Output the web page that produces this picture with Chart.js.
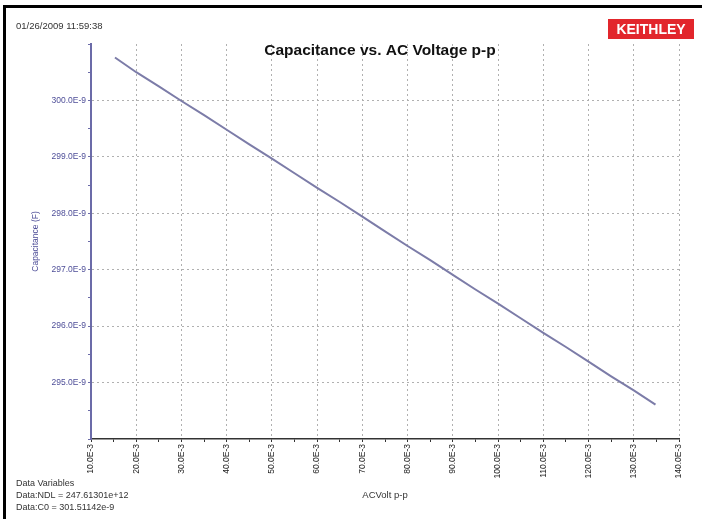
<!DOCTYPE html>
<html>
<head>
<meta charset="utf-8">
<script src="https://cdn.jsdelivr.net/npm/chart.js@4"></script>
<style>
  html, body { margin: 0; padding: 0; background: #fff; }
  #wrap { width: 702px; height: 519px; }
</style>
</head>
<body>
<div id="wrap"><canvas id="chart-1" width="702" height="519"></canvas></div>
<script>
// AC volt p-p, in E-3 units
var voltMilli = [15.3, 20, 25, 30, 35, 40, 45, 50, 55, 60, 65, 70, 75, 80, 85, 90, 95, 100, 105, 110, 115, 120, 125, 130, 134.8];
// capacitance, in E-9 units
var capNano = [300.76, 300.50, 300.25, 299.99, 299.74, 299.48, 299.22, 298.97, 298.71, 298.45, 298.20, 297.94,
               297.68, 297.42, 297.17, 296.91, 296.65, 296.40, 296.14, 295.88, 295.63, 295.37, 295.11, 294.86, 294.61];

var xMin = 10, xMax = 140, xStep = 5;
var yMin = 294, yMax = 301, yStep = 0.5;
var yLabelled = [295, 296, 297, 298, 299, 300];

var chartTitle = 'Capacitance vs. AC Voltage p-p';
var stampText = '01/26/2009 11:59:38';
var logoText = 'KEITHLEY';
var dataVarLines = ['Data Variables', 'Data:NDL = 247.61301e+12', 'Data:C0 = 301.51142e-9'];

var fam = '"Liberation Sans", Arial, sans-serif';
var blueAxis = '#6b6ba8';
var blueText = '#4e4e98';
var gridCol = '#b0b0b0';

var points = voltMilli.map(function (v, i) { return {x: v, y: capNano[i]}; });

var decor = {
    id: 'decor',
    beforeDraw: function (chart) {
        var c = chart.ctx;
        c.save();
        c.fillStyle = '#fff';
        c.fillRect(0, 0, chart.width, chart.height);
        c.fillStyle = '#000';
        c.fillRect(3, 5, chart.width - 3, 3);
        c.fillRect(3, 5, 3, chart.height - 5);
        c.restore();
    },
    afterDraw: function (chart) {
        var c = chart.ctx;
        c.save();
        c.textBaseline = 'middle';
        // time stamp
        c.fillStyle = '#333';
        c.font = '9.5px ' + fam;
        c.textAlign = 'left';
        c.fillText(stampText, 16, 26);
        // title
        c.fillStyle = '#111';
        c.font = 'bold 15.5px ' + fam;
        c.textAlign = 'center';
        c.fillText(chartTitle, 380, 51);
        // logo
        c.fillStyle = '#e2262c';
        c.fillRect(608, 19, 86, 20);
        c.fillStyle = '#fff';
        c.font = 'bold 14px ' + fam;
        c.fillText(logoText, 651, 30);
        // data variables
        c.fillStyle = '#333';
        c.font = '9px ' + fam;
        c.textAlign = 'left';
        dataVarLines.forEach(function (t, i) {
            c.fillText(t, 16, 484 + i * 12);
        });
        c.restore();
    }
};

var ctx1 = document.getElementById('chart-1');

var capChart = new Chart(ctx1, {
    type: 'line',
    data: {
        datasets: [{
            label: 'Capacitance',
            data: points,
            borderColor: '#7c7ca8',
            borderWidth: 2,
            pointRadius: 0,
            tension: 0,
            fill: false
        }]
    },
    options: {
        responsive: false,
        animation: false,
        devicePixelRatio: 1,
        layout: { padding: { left: 0, top: 44, right: 23, bottom: 0 } },
        plugins: {
            legend: { display: false },
            title: { display: false },
            tooltip: { enabled: false }
        },
        scales: {
            x: {
                type: 'linear',
                min: xMin,
                max: xMax,
                afterFit: function (s) { s.height = 80; },
                border: { color: '#333', width: 1.5, dash: [2, 3] },
                grid: {
                    color: function (c) {
                        var v = c.tick ? c.tick.value : 0;
                        return (v % 10 === 0 && v > xMin) ? gridCol : 'rgba(0,0,0,0)';
                    },
                    tickColor: '#333',
                    tickLength: 3,
                    lineWidth: 1
                },
                ticks: {
                    stepSize: xStep,
                    autoSkip: false,
                    minRotation: 90,
                    maxRotation: 90,
                    padding: 2,
                    color: '#222',
                    font: { family: fam, size: 8.5 },
                    callback: function (v) {
                        return v % 10 === 0 ? v + '.0E-3' : '';
                    }
                },
                title: {
                    display: true,
                    text: 'ACVolt p-p',
                    color: '#333',
                    font: { family: fam, size: 9.5 },
                    padding: { top: 0, bottom: 18 }
                }
            },
            y: {
                type: 'linear',
                min: yMin,
                max: yMax,
                afterFit: function (s) { s.width = 91; },
                border: { color: blueAxis, width: 2, dash: [2, 3] },
                grid: {
                    color: function (c) {
                        var v = c.tick ? c.tick.value : 0;
                        return yLabelled.indexOf(v) >= 0 ? gridCol : 'rgba(0,0,0,0)';
                    },
                    tickColor: blueAxis,
                    tickLength: 3,
                    lineWidth: 1
                },
                ticks: {
                    stepSize: yStep,
                    autoSkip: false,
                    padding: 2,
                    color: blueText,
                    font: { family: fam, size: 8.5 },
                    callback: function (v) {
                        return yLabelled.indexOf(v) >= 0 ? v + '.0E-9' : '';
                    }
                },
                title: {
                    display: true,
                    text: 'Capacitance (F)',
                    color: blueText,
                    font: { family: fam, size: 8.5 },
                    padding: { top: 31, bottom: 0 }
                }
            }
        }
    },
    plugins: [decor]
});
</script>
</body>
</html>
